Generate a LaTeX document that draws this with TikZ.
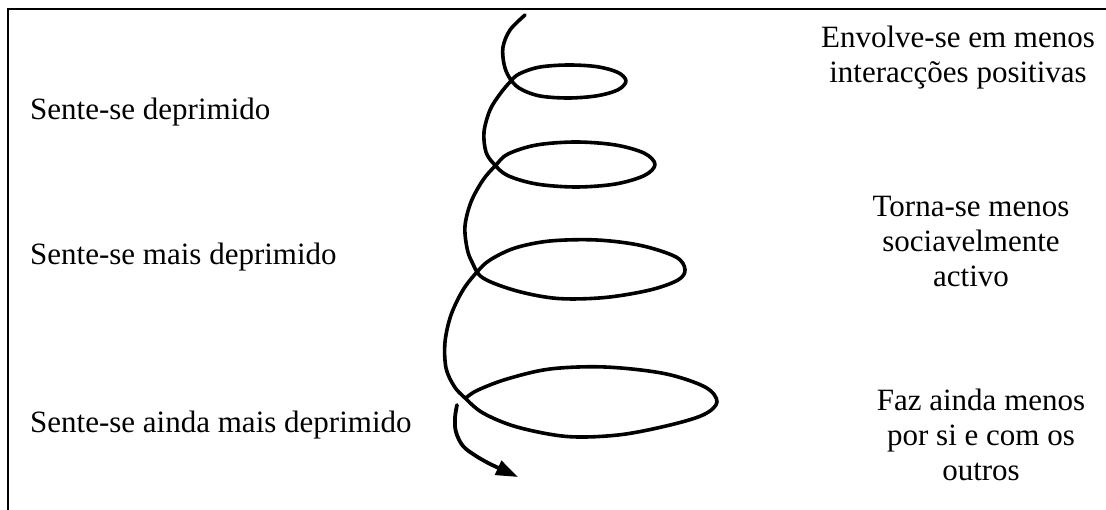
\documentclass[tikz,border=0pt]{standalone}
\usepackage{fontspec}
\setmainfont{Liberation Serif}
\usetikzlibrary{arrows.meta}
\tikzset{
  lbl/.style={inner sep=0pt, font=\fontsize{31}{35}\selectfont},
  spiral/.style={line width=3.6pt, line cap=round, line join=round},
  frame/.style={line width=2pt}
}
\begin{document}
\begin{tikzpicture}[x=1pt,y=-1pt]
\useasboundingbox (0,0) rectangle (1106,510);
% frame
\draw[frame] (1106,9) -- (8,9) -- (8,510);
% spiral
\draw[spiral] plot[smooth, tension=0.55] coordinates {
 (525,15) (510,30) (503,47) (504,64) (509,77) (519,88) (539,95.8) (568,98) (597,95.8) (618,89.8) (626,81) (618,72.5) (597,66.7) (568,65) (539,67.2) (519,74) (510,82)
 (500,94) (490,110) (484,132) (486,152) (494,164) (507.6,175.5) (536.5,184) (576,187) (615.5,184) (644.4,175.5) (655,164.5) (644.4,153.25) (615.5,145) (576,142) (536.5,145) (508,154) (496,165)
 (483,180) (471,202) (465,226) (467,248) (472,262) (483,278) (517,291) (558,298.5) (605,297.5) (650,290) (678,280) (685,269.5) (676,257) (641,245.5) (597,240) (550,241) (515,248) (490,260) (477,272)
 (463,290) (451,315) (445,342) (446,368) (454,386) (464,397) (483,413) (517,427) (567,436.5) (618,435) (666,426) (703,415) (717,402) (705,387) (664,373.5) (605,367) (550,369) (507,379) (478,390) (467,397)
};
% arrow
\draw[spiral, line width=3.8pt, -{Triangle[length=22pt,width=15pt]}] plot[smooth, tension=0.6] coordinates {
 (457,405) (455,418) (456,432) (463,446) (476,456) (490,464)
} -- (518,477);
% labels
\node[lbl, anchor=base west] (l1) at (30,120) {Sente-se deprimido};
\node[lbl, anchor=base west] (l2) at (30,265) {Sente-se mais deprimido};
\node[lbl, anchor=base west] (l3) at (30,433) {Sente-se ainda mais deprimido};
\node[lbl, anchor=base, align=center] (r1) at (958,83) {Envolve-se em menos\\interacções positivas};
\node[lbl, anchor=base, align=center] (r2) at (971,287) {Torna-se menos\\sociavelmente\\activo};
\node[lbl, anchor=base, align=center] (r3) at (981,480) {Faz ainda menos\\por si e com os\\outros};
\end{tikzpicture}
\end{document}
